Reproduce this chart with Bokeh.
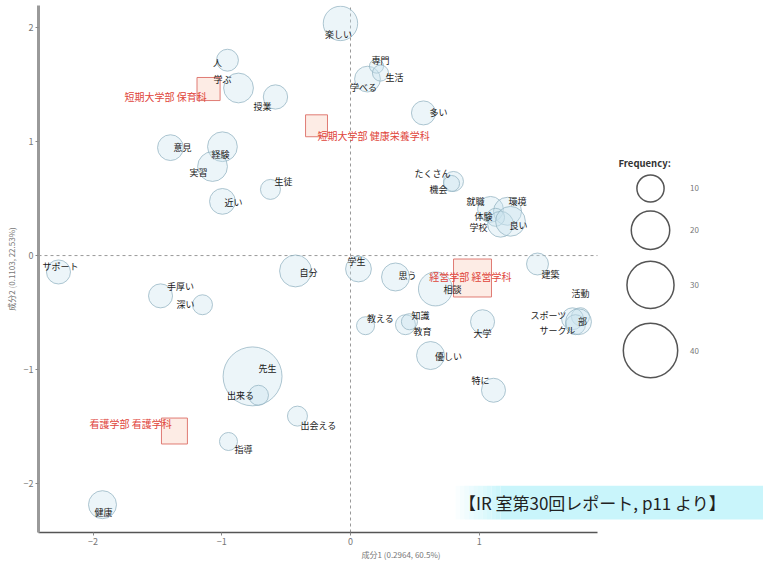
import numpy as np
from bokeh.plotting import figure
from bokeh.models import ColumnDataSource, Label, BoxAnnotation
from bokeh.core.properties import value
from bokeh.embed import file_html
from bokeh.resources import INLINE

FONT = "Noto Sans CJK JP"

# ---- data ----
words = ["楽しい", "人", "学ぶ", "授業", "意見", "経験", "実習", "近い", "生徒", "学べる",
         "専門", "生活", "多い", "たくさん", "機会", "就職", "環境", "体験", "学校", "良い",
         "建築", "活動", "スポーツ", "サークル", "部", "思う", "相談", "サポート", "手厚い", "深い",
         "自分", "学生", "教える", "知識", "教育", "大学", "優しい", "特に", "先生", "出来る",
         "出会える", "指導", "健康"]
dim1 = [-0.078, -0.956, -0.870, -0.583, -1.399, -0.995, -1.072, -0.995, -0.622, 0.132,
        0.202, 0.233, 0.567, 0.800, 0.785, 1.088, 1.220, 1.127, 1.166, 1.243,
        1.453, 1.787, 1.725, 1.748, 1.772, 0.350, 0.660, -2.269, -1.476, -1.150,
        -0.427, 0.062, 0.117, 0.427, 0.458, 1.026, 0.622, 1.111, -0.761, -0.715,
        -0.412, -0.948, -1.927]
dim2 = [2.039, 1.716, 1.472, 1.393, 0.948, 0.956, 0.782, 0.476, 0.581, 1.550,
        1.664, 1.603, 1.253, 0.651, 0.633, 0.406, 0.389, 0.336, 0.275, 0.301,
        -0.074, -0.537, -0.555, -0.607, -0.581, -0.188, -0.293, -0.144, -0.354, -0.432,
        -0.135, -0.118, -0.616, -0.607, -0.581, -0.581, -0.878, -1.183, -1.061, -1.227,
        -1.410, -1.633, -2.188]
freq = [16, 6.5, 12, 8, 9, 12, 12, 9, 5.4, 9,
        2.7, 3.5, 7.8, 5.4, 3.5, 9, 10.6, 4.4, 9, 12,
        6.5, 4.4, 6.5, 5.4, 9, 10.6, 15.6, 7.8, 7.8, 5.4,
        13.8, 9, 4.4, 5.4, 3.5, 7.8, 10.6, 7.8, 47, 5.4,
        5.4, 4.4, 10.6]
label_dim1 = [-0.093, -1.033, -0.995, -0.684, -1.305, -1.010, -1.181, -0.909, -0.521, 0.101,
              0.233, 0.342, 0.684, 0.637, 0.684, 0.971, 1.298, 1.033, 0.995, 1.305,
              1.554, 1.787, 1.538, 1.608, 1.803, 0.443, 0.793, -2.253, -1.321, -1.282,
              -0.326, 0.047, 0.233, 0.544, 0.559, 1.026, 0.761, 1.010, -0.645, -0.855,
              -0.249, -0.831, -1.919]
label_dim2 = [1.943, 1.699, 1.550, 1.306, 0.948, 0.886, 0.729, 0.467, 0.651, 1.472,
              1.716, 1.568, 1.253, 0.721, 0.581, 0.476, 0.476, 0.345, 0.249, 0.266,
              -0.162, -0.336, -0.528, -0.659, -0.581, -0.179, -0.301, -0.092, -0.275, -0.432,
              -0.153, -0.048, -0.555, -0.528, -0.668, -0.686, -0.886, -1.096, -0.991, -1.227,
              -1.489, -1.703, -2.258]

groups = ["短期大学部 保育科", "短期大学部 健康栄養学科", "経営学部 経営学科", "看護学部 看護学科"]
group_dim1 = [-1.103, -0.264, 0.948, -1.368]
group_dim2 = [1.463, 1.140, -0.197, -1.541]
group_freq = [7.2, 6.5, 19.5, 9.1]
group_label_dim1 = [-1.437, 0.179, 0.932, -1.709]
group_label_dim2 = [1.393, 1.052, -0.188, -1.472]

x_ticks = [-2, -1, 0, 1]
y_ticks = [-2, -1, 0, 1, 2]
legend_freq = [10, 20, 30, 40]
x_title = "成分1 (0.2964, 60.5%)"
y_title = "成分2 (0.1103, 22.53%)"
legend_title = "Frequency:"
note = "【IR 室第30回レポート, p11 より】"

# ---- layout helpers (pixel -> data) ----
PX_X = 128.7
PX_Y = 114.5
X0PX, Y0PX = 350.0, 256.5


def dx(px):
    return (px - X0PX) / PX_X


def dy(py):
    return (Y0PX - py) / PX_Y


x0, x1 = dx(38), dx(763)
y0, y1 = dy(535), dy(5)
x_axis_end = dx(597)


def diam(f):
    return 8.6 * np.sqrt(np.asarray(f, dtype=float))


p = figure(width=763, height=562, output_backend="svg", toolbar_location=None,
           x_range=(x0, x1), y_range=(y0, y1),
           min_border_left=38, min_border_right=0, min_border_top=5, min_border_bottom=27)
p.outline_line_color = None
p.xgrid.visible = False
p.ygrid.visible = False
p.background_fill_color = "white"
p.border_fill_color = "white"

# axes
p.xaxis.ticker = x_ticks
p.yaxis.ticker = y_ticks
p.xaxis.bounds = (x0, x_axis_end)
for ax in (p.xaxis, p.yaxis):
    ax.major_label_text_font = FONT
    ax.major_label_text_font_size = "9px"
    ax.major_label_text_color = "#777777"
    ax.major_tick_out = 3
    ax.major_tick_in = 0
    ax.minor_tick_out = 0
    ax.minor_tick_in = 0
    ax.major_tick_line_color = "#888888"
    ax.major_label_standoff = 2
    ax.axis_label_text_font = FONT
    ax.axis_label_text_font_size = "8px"
    ax.axis_label_text_font_style = "normal"
    ax.axis_label_text_color = "#777777"
p.xaxis.axis_line_color = "#555555"
p.xaxis.axis_line_width = 1.5
p.yaxis.axis_line_color = "#9a9a9a"
p.yaxis.axis_line_width = 3
p.yaxis.axis_label = y_title
p.yaxis.axis_label_standoff = 4
p.xaxis.axis_label = x_title
p.xaxis.axis_label_standoff = 1

# dashed origin lines
p.segment(x0=[0], y0=[y0], x1=[0], y1=[y1], line_color="#999999", line_dash="3 3", line_width=1)
p.segment(x0=[x0], y0=[0], x1=[x_axis_end], y1=[0], line_color="#999999", line_dash="3 3", line_width=1)

# note box (soft left edge)
nx0, nx1 = dx(455), x1
ny0, ny1 = dy(522), dy(488)
steps = 10
ramp = 45 / PX_X
for i in range(steps):
    a = (i + 1) / (steps + 1)
    p.add_layout(BoxAnnotation(left=nx0 + ramp * i / steps, right=nx0 + ramp * (i + 1) / steps,
                               bottom=ny0, top=ny1, fill_color="#c9f5fb", fill_alpha=a,
                               line_color=None))
p.add_layout(BoxAnnotation(left=nx0 + ramp, right=nx1, bottom=ny0, top=ny1,
                           fill_color="#c9f5fb", fill_alpha=1.0, line_color=None))

# groups (squares)
gsrc = ColumnDataSource(dict(x=group_dim1, y=group_dim2, s=diam(group_freq),
                             lx=group_label_dim1, ly=group_label_dim2, t=groups))
p.scatter("x", "y", size="s", marker="square", source=gsrc, fill_color="#fcdccf",
          fill_alpha=0.55, line_color="#e07b74", line_width=1)

# words (bubbles)
wsrc = ColumnDataSource(dict(x=dim1, y=dim2, s=diam(freq), lx=label_dim1, ly=label_dim2, t=words))
p.scatter("x", "y", size="s", marker="circle", source=wsrc, fill_color="#c9e2ef",
          fill_alpha=0.35, line_color="#93b3c2", line_alpha=0.75, line_width=1)
p.text("lx", "ly", text="t", source=wsrc, text_font=value(FONT), text_font_size="9px",
       text_color="#1a1a1a", text_align="center", text_baseline="middle")
p.text("lx", "ly", text="t", source=gsrc, text_font=value(FONT), text_font_size="10px",
       text_color="#e0443a", text_align="center", text_baseline="middle")

# size legend
lg_y = [dy(v) for v in (189, 231, 286, 352)]
lsrc = ColumnDataSource(dict(x=[dx(650)] * len(legend_freq), y=lg_y, s=diam(legend_freq),
                             t=[str(v) for v in legend_freq],
                             tx=[dx(694)] * len(legend_freq)))
p.scatter("x", "y", size="s", marker="circle", source=lsrc, fill_color=None,
          line_color="#555555", line_width=1.5)
p.text("tx", "y", text="t", source=lsrc, text_font=value(FONT), text_font_size="8px",
       text_color="#777777", text_align="center", text_baseline="middle")
p.add_layout(Label(x=dx(618), y=dy(163), text=legend_title,
                   text_font=FONT, text_font_size="9.5px", text_font_style="bold",
                   text_color="#333333", text_align="left", text_baseline="middle"))

# note text
p.add_layout(Label(x=dx(592), y=dy(505), text=note,
                   text_font=FONT, text_font_size="17px", text_color="#222222",
                   text_align="center", text_baseline="middle"))

open("out.html", "w").write(file_html(p, INLINE))
